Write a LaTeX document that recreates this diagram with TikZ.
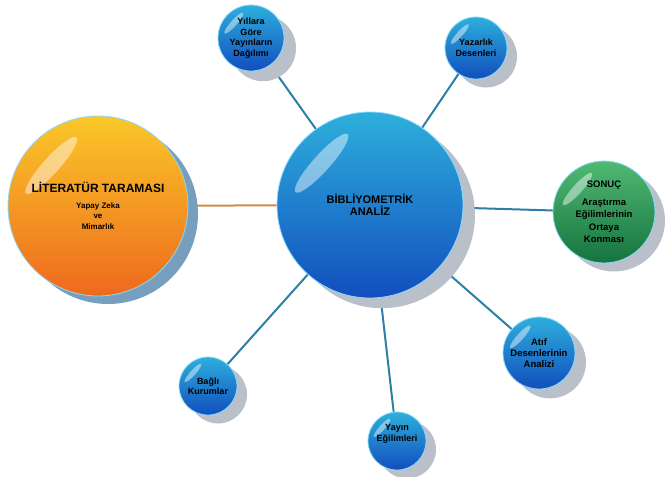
\documentclass[tikz,border=0pt]{standalone}
\usepackage{fontspec}
\setsansfont{Liberation Sans}
\usetikzlibrary{shadows,backgrounds}

\definecolor{bluetop}{RGB}{45,175,220}
\definecolor{bluebot}{RGB}{18,78,190}
\definecolor{orangetop}{RGB}{250,200,40}
\definecolor{orangebot}{RGB}{238,105,30}
\definecolor{greentop}{RGB}{80,185,115}
\definecolor{greenbot}{RGB}{22,115,62}
\definecolor{shadowgrey}{RGB}{185,192,202}
\definecolor{shadowblue}{RGB}{120,158,190}
\definecolor{spoke}{RGB}{45,128,165}
\definecolor{spokeorange}{RGB}{205,140,75}

\tikzset{
  sphere/.style={circle, inner sep=0pt, align=center, text=black,
    minimum size=2*#1, draw=white!55!cyan, line width=0.8pt,
    font=\sffamily\bfseries\fontsize{9}{10.5}\selectfont,
    path picture={\fill[white,opacity=0.45]
      ([shift={(-0.52*#1,-0.45*#1)}]path picture bounding box.center)
      ellipse [x radius=0.42*#1, y radius=0.09*#1, rotate=48];}},
  blueball/.style={sphere=#1, top color=bluetop, bottom color=bluebot},
  ballshadow/.style={drop shadow={shadow xshift=#1, shadow yshift=-0.85*#1,
    fill=shadowgrey, opacity=1}},
  spokeline/.style={spoke, line width=2pt}
}

\begin{document}
\begin{tikzpicture}[x=1pt,y=-1pt]
    \useasboundingbox (0,0) rectangle (670,477);

    % Central node
    \node[blueball=93, ballshadow=12pt, font=\sffamily\bfseries\fontsize{11}{12.5}\selectfont]
        (analiz) at (370,205) {BİBLİYOMETRİK\\ANALİZ};

    % Input and output
    \node[sphere=90, top color=orangetop, bottom color=orangebot,
        drop shadow={shadow xshift=10pt, shadow yshift=-8pt, fill=shadowblue, opacity=1},
        font=\sffamily\bfseries\fontsize{8}{10.5}\selectfont]
        (literatur) at (98,206)
        {{\fontsize{12}{13}\selectfont LİTERATÜR TARAMASI}\\[5pt]Yapay Zeka\\ve\\Mimarlık};
    \node[sphere=51, top color=greentop, bottom color=greenbot, ballshadow=10pt,
        font=\sffamily\bfseries\fontsize{9.5}{12.5}\selectfont]
        (sonuc) at (604,212) {SONUÇ\\[5pt]Araştırma\\Eğilimlerinin\\Ortaya\\Konması};

    % Satellite nodes
    \node[blueball=33, ballshadow=12pt] (yillar) at (251,38) {Yıllara\\Göre\\Yayınların\\Dağılımı};
    \node[blueball=31, ballshadow=10pt] (yazarlik) at (476,48) {Yazarlık\\Desenleri};
    \node[blueball=36, ballshadow=11pt, font=\sffamily\bfseries\fontsize{9.5}{11}\selectfont]
        (atif) at (539,353) {Atıf\\Desenlerinin\\Analizi};
    \node[blueball=29, ballshadow=10pt] (bagli) at (208,386) {Bağlı\\Kurumlar};
    \node[blueball=29, ballshadow=10pt] (yayin) at (397,441) {Yayın\\Eğilimleri\\[6pt]\mbox{}};

    % Spokes
    \begin{scope}[on background layer]
        \draw[spokeorange, line width=2pt] (literatur) -- (analiz);
        \foreach \n in {yillar, yazarlik, sonuc, atif, yayin, bagli} {
            \draw[spokeline] (analiz.center) -- (\n.center);
        }
    \end{scope}
\end{tikzpicture}
\end{document}
